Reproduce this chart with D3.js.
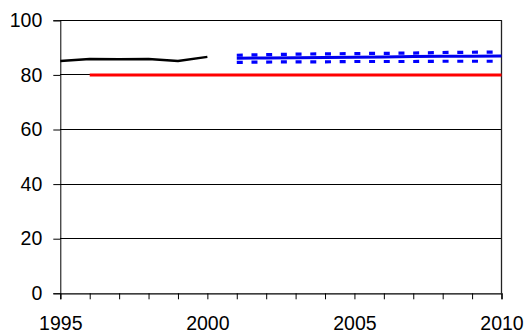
<!DOCTYPE html>
<html><head><meta charset="utf-8">
<script src="https://cdn.jsdelivr.net/npm/d3@7"></script>
<style>body{margin:0;background:#fff}svg{display:block}text{font-family:"Liberation Sans",Arial,sans-serif}</style>
</head><body>
<script>
const yTicks = [0, 20, 40, 60, 80, 100];
const xTickLabels = [1995, 2000, 2005, 2010];
const histYears = [1995, 1996, 1997, 1998, 1999, 2000];
const histValues = [85.1, 85.8, 85.7, 85.8, 85.1, 86.6];
const targetYears = [1996, 2010];
const targetValues = [80, 80];
const projYears = [2001, 2002, 2003, 2004, 2005, 2006, 2007, 2008, 2009, 2010];
const projValues = [86.1, 86.2, 86.3, 86.4, 86.5, 86.6, 86.7, 86.8, 86.8, 86.9];
const projUpper = [87.2, 87.4, 87.6, 87.7, 87.8, 87.9, 88.0, 88.2, 88.3, 88.4];
const projLower = [84.6, 84.7, 84.8, 84.8, 84.9, 84.9, 84.9, 85.0, 85.0, 85.0];

const W = 528, H = 333;
const svg = d3.select("body").append("svg").attr("width", W).attr("height", H);
const x = d3.scaleLinear().domain([1995, 2010]).range([60.3, 501.5]);
const y = d3.scaleLinear().domain([0, 100]).range([293.3, 20.3]);
const FS = 19.5;

// gridlines
svg.append("g").selectAll("line").data(yTicks.filter(d => d > 0)).join("line")
  .attr("x1", x(1995)).attr("x2", x(2010))
  .attr("y1", d => y(d)).attr("y2", d => y(d))
  .attr("stroke", "#000").attr("stroke-width", 1).attr("shape-rendering", "crispEdges");
// right border
svg.append("line").attr("x1", x(2010)).attr("x2", x(2010)).attr("y1", y(100)).attr("y2", y(0))
  .attr("stroke", "#222").attr("stroke-width", 1.3);

// y axis
const yAxis = d3.axisLeft(y).tickValues(yTicks).tickSize(7).tickPadding(11);
const gy = svg.append("g").attr("transform", `translate(${x(1995)},0)`).call(yAxis);
gy.selectAll("text").attr("font-size", FS).attr("fill", "#000").attr("font-family", "Liberation Sans, Arial, sans-serif");
gy.selectAll("line, path").attr("stroke", "#000");

// x axis
const xAxis = d3.axisBottom(x).tickValues(d3.range(1995, 2011)).tickSize(6).tickPadding(17)
  .tickFormat(d => xTickLabels.includes(d) ? String(d) : "");
const gx = svg.append("g").attr("transform", `translate(0,${y(0)})`).call(xAxis);
gx.selectAll("text").attr("font-size", FS).attr("fill", "#000").attr("font-family", "Liberation Sans, Arial, sans-serif");
gx.selectAll("line, path").attr("stroke", "#000");
gx.select("path").attr("stroke-width", 1.3);

const line = d3.line().x(d => x(d[0])).y(d => y(d[1]));

// target (red)
svg.append("path").datum(d3.zip(targetYears, targetValues)).attr("d", line)
  .attr("fill", "none").attr("stroke", "#ff0000").attr("stroke-width", 3);
// historical (black)
svg.append("path").datum(d3.zip(histYears, histValues)).attr("d", line)
  .attr("fill", "none").attr("stroke", "#000").attr("stroke-width", 2.5).attr("stroke-linejoin", "round");
// projection bounds (blue dashed)
[projUpper, projLower].forEach(arr => {
  svg.append("path").datum(d3.zip(projYears, arr)).attr("d", line)
    .attr("fill", "none").attr("stroke", "#0000ff").attr("stroke-width", 3.2)
    .attr("stroke-dasharray", "6,8.7");
});
// projection (blue solid)
svg.append("path").datum(d3.zip(projYears, projValues)).attr("d", line)
  .attr("fill", "none").attr("stroke", "#0000ee").attr("stroke-width", 3);
</script>
</body></html>
